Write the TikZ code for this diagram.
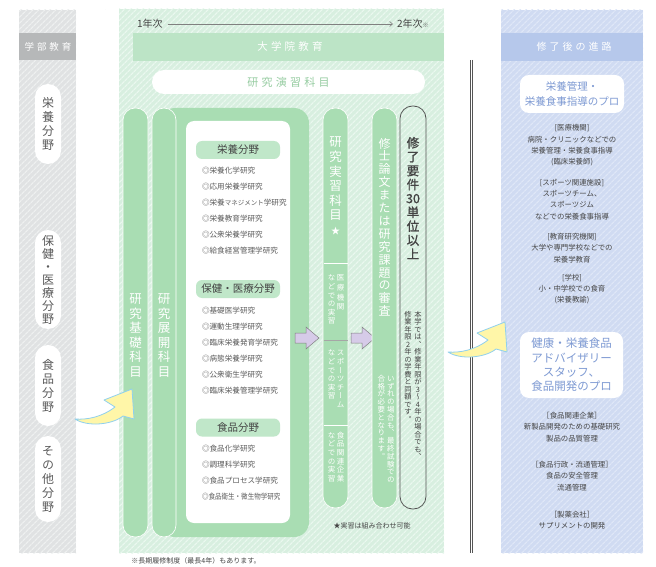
\documentclass[tikz,border=0pt]{standalone}
\usepackage{fontspec}
\setmainfont{Noto Sans CJK JP}
\newfontfamily\jls{Noto Sans CJK JP}[LetterSpace=30]
\newfontfamily\vjp{Noto Sans CJK JP}[RawFeature={+vert}]
\newfontfamily\vjpb{Noto Sans CJK JP}[RawFeature={+vert},FakeBold=1.2]
\usetikzlibrary{patterns.meta,arrows.meta}
\makeatletter
\newcommand\vtx[2]{\vtop{\baselineskip=#1\lineskiplimit=-100pt\relax\@tfor\vtc:=#2\do{\hbox to 1em{\hss\vtc\hss}}}}
\makeatother
\definecolor{gbase}{HTML}{E0E2E3}
\definecolor{gstripe}{HTML}{EEF0F0}
\definecolor{ghead}{HTML}{B6B8B9}
\definecolor{nbase}{HTML}{D8EFE0}
\definecolor{nstripe}{HTML}{EAF8EF}
\definecolor{nhead}{HTML}{BCE4C6}
\definecolor{colgreen}{HTML}{A9DDB3}
\definecolor{catgreen}{HTML}{C0E7C9}
\definecolor{ngtext}{HTML}{96CCA1}
\definecolor{bbase}{HTML}{D0DBF2}
\definecolor{bstripe}{HTML}{DFE7F7}
\definecolor{bhead}{HTML}{B6C8EB}
\definecolor{btext}{HTML}{7E9AD3}
\definecolor{txtdark}{HTML}{444444}
\definecolor{txtgray}{HTML}{5A5A5A}
\definecolor{dgray}{HTML}{555555}
\definecolor{lav}{HTML}{D6CBE8}
\definecolor{yel}{HTML}{FFF6A8}
\definecolor{ybord}{HTML}{8FD0EE}
\begin{document}
\begin{tikzpicture}[x=1pt,y=-1pt,
  every node/.style={inner sep=0pt,outer sep=0pt},
  lpill/.style={fill=white,rounded corners=13pt,minimum width=26pt,text=txtgray},
  colbar/.style={fill=colgreen,draw=white,line width=0.6pt,rounded corners=12pt},
  catpill/.style={fill=catgreen,rounded corners=6pt,minimum width=84pt,minimum height=18pt,text=txtdark,font=\fontsize{10.5}{12}\selectfont},
  item/.style={anchor=west,text=txtgray,font=\fontsize{7.6}{9}\selectfont},
  rtxt/.style={align=center,text=txtdark,font=\fontsize{7.4}{11.3}\selectfont},
  dbl/.style={draw=dgray,line width=0.5pt,double=white,double distance=1.2pt},
  lavarrow/.style={fill=lav,draw=gray,line width=0.5pt},
  yarrow/.style={fill=yel,draw=ybord,line width=0.8pt,line join=round},
  vwhite/.style={text=white,anchor=north}]
\path[use as bounding box,fill=white] (0,0) rectangle (656,567);
% ---------- left panel
\path[fill=gbase,postaction={pattern={Lines[angle=45,distance=4pt,line width=1.3pt]},pattern color=gstripe}] (19,10) rectangle (76,553);
\fill[ghead] (19,33) rectangle (76,60);
\node[text=white,font=\jls\fontsize{9.5}{11}\selectfont] (gakubu) at (48,46.5) {学部教育};
\node[lpill,minimum height=80pt] (p1) at (48,124) {\vjp\fontsize{12}{14}\selectfont\vtx{14pt}{栄養分野}};
\node[lpill,minimum height=99pt] (p2) at (48,279.5) {\vjp\fontsize{12}{14}\selectfont\vtx{13pt}{保健・医療分野}};
\node[lpill,minimum height=81pt] (p3) at (48,385.5) {\vjp\fontsize{12}{14}\selectfont\vtx{14pt}{食品分野}};
\node[lpill,minimum height=86pt] (p4) at (48,479) {\vjp\fontsize{12}{14}\selectfont\vtx{14pt}{その他分野}};
% ---------- double lines
\draw[dbl] (105,10) -- (105,553);
\draw[dbl] (471.5,60) -- (471.5,553);
% ---------- centre panel
\path[fill=nbase,postaction={pattern={Lines[angle=45,distance=4pt,line width=1.3pt]},pattern color=nstripe}] (119,9) rectangle (444,553);
\node[text=txtdark,font=\fontsize{10}{12}\selectfont,anchor=west] (y1) at (137,24) {1年次};
\node[text=txtdark,font=\fontsize{10}{12}\selectfont,anchor=west] (y2) at (397,24) {2年次{\fontsize{6}{7}\selectfont ※}};
\draw[gray,line width=0.6pt,-{Straight Barb[length=3pt,width=5pt]}] (y1.east) ++(5,0) coordinate (ya) -- (393,24) coordinate (yb);
\fill[nhead] (133,33) rectangle (444,61);
\node[text=white,font=\jls\fontsize{10.5}{12}\selectfont] (daigakuin) at (290,47) {大学院教育};
\node[fill=white,rounded corners=12pt,minimum width=273pt,minimum height=24pt,text=ngtext,font=\jls\fontsize{11}{12}\selectfont] (enshu) at (288.5,82) {研究演習科目};
% big green area and columns
\fill[colgreen,rounded corners=15pt] (160,108) rectangle (309,537);
\path[colbar] (123,108) rectangle (148,537);
\path[colbar] (152,108) rectangle (176,537);
\node[vwhite] (kiso) at (135.5,294) {\vjp\fontsize{12.5}{14}\selectfont\vtx{14.5pt}{研究基礎科目}};
\node[vwhite] (tenkai) at (164,294) {\vjp\fontsize{12.5}{14}\selectfont\vtx{14.5pt}{研究展開科目}};
\fill[white,rounded corners=8pt] (186,121) rectangle (290,523);
% categories
\node[catpill] (c1) at (238,150) {栄養分野};
\node[item] (a1) at (202,171) {◎栄養化学研究};
\node[item] (a2) at (202,187) {◎応用栄養学研究};
\node[item] (a3) at (202,203) {◎栄養{\fontsize{6.5}{8}\selectfont マネジメント}学研究};
\node[item] (a4) at (202,219) {◎栄養教育学研究};
\node[item] (a5) at (202,235) {◎公衆栄養学研究};
\node[item] (a6) at (202,251) {◎給食経営管理学研究};
\node[catpill] (c2) at (238,289) {保健・医療分野};
\node[item] (b1) at (202,311) {◎基礎医学研究};
\node[item] (b2) at (202,327) {◎運動生理学研究};
\node[item] (b3) at (202,343) {◎臨床栄養発育学研究};
\node[item] (b4) at (202,359) {◎病態栄養学研究};
\node[item] (b5) at (202,375) {◎公衆衛生学研究};
\node[item] (b6) at (202,391) {◎臨床栄養管理学研究};
\node[catpill] (c3) at (238,427.5) {食品分野};
\node[item] (d1) at (202,449) {◎食品化学研究};
\node[item] (d2) at (202,465) {◎調理科学研究};
\node[item] (d3) at (202,481) {◎食品プロセス学研究};
\node[item] (d4) at (202,497) {\scalebox{0.86}[1]{◎食品衛生・微生物学研究}};
% lavender arrows
\path[lavarrow] (295,333) -- (306,333) -- (306,327) -- (319,338) -- (306,349) -- (306,343) -- (295,343) -- cycle;
\path[lavarrow] (351,333) -- (362,333) -- (362,327) -- (375,338) -- (362,349) -- (362,343) -- (351,343) -- cycle;
% practice column
\path[colbar] (323,108) rectangle (348,508);
\draw[white,line width=0.8pt] (323.5,263) -- (347.5,263);
\draw[gray!70,line width=0.6pt] (323.5,340) -- (347.5,340);
\draw[white,line width=0.8pt] (323.5,425) -- (347.5,425);
\node[vwhite] (jisshu) at (335.5,137) {\vjp\fontsize{12.5}{14}\selectfont\vtx{14.6pt}{研究実習科目{\fontsize{9}{10}\selectfont ★}}};
\node[vwhite] (s1) at (336,275) {\vjp\fontsize{7.5}{9}\selectfont\hbox{\vtx{8.6pt}{などでの実習}\hskip1.5pt\vtx{9.6pt}{医療機関}}};
\node[vwhite] (s2) at (336,350) {\vjp\fontsize{7.5}{9}\selectfont\hbox{\vtx{8.6pt}{などでの実習}\hskip1.5pt\vtx{8.6pt}{スポーツチーム}}};
\node[vwhite] (s3) at (336,432) {\vjp\fontsize{7.5}{9}\selectfont\hbox{\vtx{8.6pt}{などでの実習}\hskip1.5pt\vtx{8.6pt}{食品関連企業}}};
% thesis column
\path[colbar] (372,108) rectangle (397,508);
\node[vwhite] (shuron) at (384.5,138) {\vjp\fontsize{12}{14}\selectfont\vtx{12.9pt}{修士論文または研究課題の審査}};
\node[vwhite] (saishu) at (386,375) {\vjp\fontsize{7.5}{9}\selectfont\hbox{\vtx{7.8pt}{合格が必要となります。}\hskip2pt\vtx{7.8pt}{いずれの場合も、最終試験での}}};
% requirement column
\draw[draw=dgray,line width=0.8pt,rounded corners=12.5pt] (400,106) rectangle (426,509);
\node[anchor=north,text=txtdark] (yoken) at (413,137) {\vjpb\fontsize{12.5}{14}\selectfont\vtx{13.9pt}{修了要件{30}単位以上}};
\node[anchor=north,text=txtdark] (gakuhi) at (413,311) {\vjp\fontsize{7.3}{9}\selectfont\hbox{\vtx{7.5pt}{修業年限2年の学費と同額です。}\hskip2.5pt\vtx{7.5pt}{本学では、修業年限が3～4年の場合でも、}}};
\node[text=txtdark,font=\fontsize{7}{8}\selectfont] (kumiawase) at (372,526) {★実習は組み合わせ可能};
\node[text=txtdark,font=\fontsize{7}{8}\selectfont] (chuki) at (196,561) {※長期履修制度（最長4年）もあります。};
% ---------- right panel
\path[fill=bbase,postaction={pattern={Lines[angle=45,distance=4pt,line width=1.3pt]},pattern color=bstripe}] (501,10) rectangle (643,553);
\fill[bhead] (501,33) rectangle (643,61);
\node[text=white,font=\jls\fontsize{10}{12}\selectfont] (shinro) at (574,47) {修了後の進路};
\node[fill=white,rounded corners=9pt,minimum width=104pt,minimum height=38pt,align=center,text=btext,font=\fontsize{10.5}{14}\selectfont] (pro1) at (572,94) {栄養管理・\\栄養食事指導のプロ};
\node[rtxt] (r1) at (572,145.5) {[医療機関]\\病院・クリニックなどでの\\栄養管理・栄養食事指導\\(臨床栄養師)};
\node[rtxt] (r2) at (572,199.5) {[スポーツ関連施設]\\スポーツチーム、\\スポーツジム\\などでの栄養食事指導};
\node[rtxt] (r3) at (572,248) {[教育研究機関]\\大学や専門学校などでの\\栄養学教育};
\node[rtxt] (r4) at (572,289) {[学校]\\小・中学校での食育\\(栄養教諭)};
\node[fill=white,rounded corners=9pt,minimum width=103pt,minimum height=66pt,align=center,text=btext,font=\fontsize{11.5}{14.3}\selectfont] (pro2) at (571.5,365) {健康・栄養食品\\アドバイザリー\\スタッフ、\\食品開発のプロ};
\node[rtxt] (r5) at (572,427) {［食品関連企業］\\新製品開発のための基礎研究\\製品の品質管理};
\node[rtxt] (r6) at (572,476) {［食品行政・流通管理］\\食品の安全管理\\流通管理};
\node[rtxt] (r7) at (572,520) {［製薬会社］\\サプリメントの開発};
% ---------- yellow arrows
\path[yarrow] (75,419) .. controls (87,427) and (112,425) .. (123,416) -- (134,419) -- (132,389) -- (104,400) -- (115,407) .. controls (102,417) and (87,420) .. (75,419) -- cycle;
\path[yarrow] (448,352) .. controls (460,360) and (485,358) .. (496,349) -- (507,352) -- (505,322) -- (477,333) -- (488,340) .. controls (475,350) and (460,353) .. (448,352) -- cycle;
\end{tikzpicture}
\end{document}
